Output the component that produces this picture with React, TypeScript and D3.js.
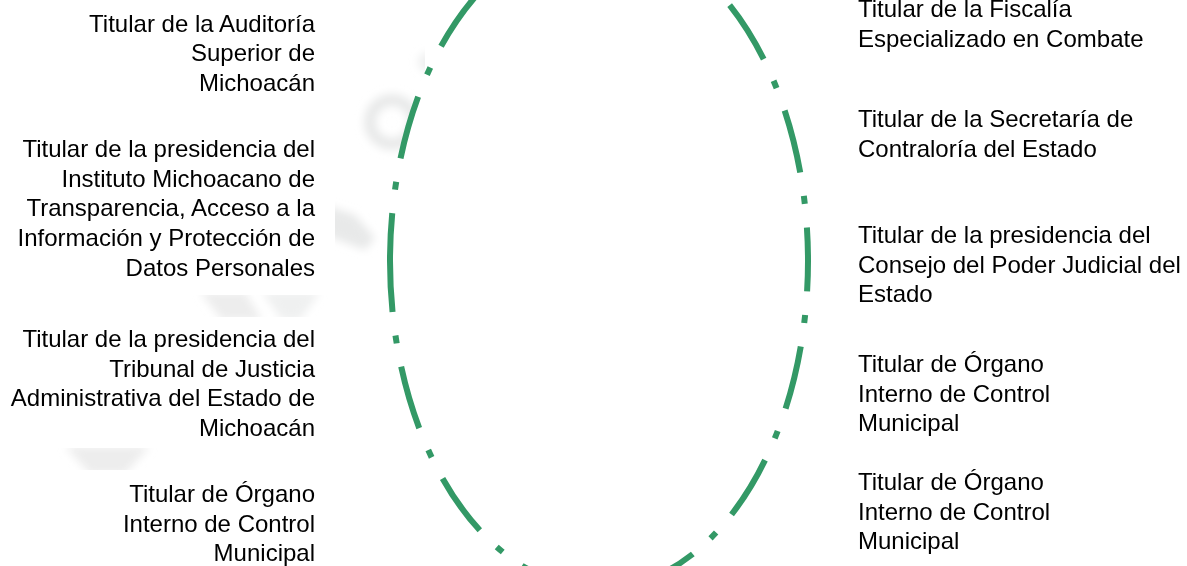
import * as d3 from 'd3';
import React, { useRef, useEffect } from 'react';

// label text, one array of lines per box
const leftLabels = [
  ['Titular de la Auditoría', 'Superior de', 'Michoacán'],
  ['Titular de la presidencia del', 'Instituto Michoacano de', 'Transparencia, Acceso a la', 'Información y Protección de', 'Datos Personales'],
  ['Titular de la presidencia del', 'Tribunal de Justicia', 'Administrativa del Estado de', 'Michoacán'],
  ['Titular de Órgano', 'Interno de Control', 'Municipal'],
];
const rightLabels = [
  ['Titular de la Fiscalía', 'Especializado en Combate'],
  ['Titular de la Secretaría de', 'Contraloría del Estado'],
  ['Titular de la presidencia del', 'Consejo del Poder Judicial del', 'Estado'],
  ['Titular de Órgano', 'Interno de Control', 'Municipal'],
  ['Titular de Órgano', 'Interno de Control', 'Municipal'],
];

// layout (first baseline of each box)
const leftTops = [31.5, 157, 347, 502];
const rightTops = [17, 127, 243, 372, 490];

const W = 1187;
const H = 566;
const green = '#339966';

const App = () => {
  const ref = useRef(null);

  useEffect(() => {
    document.body.style.margin = '0';
    const svg = d3.select(ref.current);
    svg.selectAll('*').remove();

    const lineH = 29.7;

    // faint watermark, only visible in the gaps between boxes
    const defs = svg.append('defs');
    defs.append('filter').attr('id', 'blur')
      .attr('x', '-20%').attr('y', '-20%').attr('width', '140%').attr('height', '140%')
      .append('feGaussianBlur').attr('stdDeviation', 4);
    const clip = defs.append('clipPath').attr('id', 'wm');
    [[335, 20, 90, 300], [145, 295, 190, 22], [35, 448, 130, 22]].forEach(([x, y, w, h]) =>
      clip.append('rect').attr('x', x).attr('y', y).attr('width', w).attr('height', h));

    const wm = svg.append('g').attr('clip-path', 'url(#wm)')
      .append('g').attr('filter', 'url(#blur)').attr('fill', '#e8e9e9').attr('stroke', '#e8e9e9');
    wm.append('circle').attr('cx', 392).attr('cy', 122).attr('r', 22)
      .attr('fill', 'none').attr('stroke-width', 12);
    wm.append('circle').attr('cx', 428).attr('cy', 62).attr('r', 10).attr('stroke', 'none').attr('opacity', 0.7);
    wm.append('path').attr('d', 'M325,205 L355,215 L375,238 L365,250 L325,235 Z').attr('stroke', 'none');
    wm.append('path').attr('d', 'M200,292 L245,292 L262,320 L222,320 Z').attr('stroke', 'none').attr('opacity', 0.8);
    wm.append('path').attr('d', 'M262,292 L320,292 L300,320 L282,320 Z').attr('stroke', 'none').attr('opacity', 0.7);
    wm.append('path').attr('d', 'M65,446 L150,446 L125,474 L90,474 Z').attr('stroke', 'none').attr('opacity', 0.8);

    // ellipse: path starts at the left and runs clockwise, like the source shape
    const cx = 599, cy = 261, rx = 209, ry = 328;
    const p = `M${cx - rx},${cy} A${rx},${ry} 0 0 1 ${cx + rx},${cy} A${rx},${ry} 0 0 1 ${cx - rx},${cy} Z`;
    svg.append('path')
      .attr('d', p)
      .attr('fill', '#ffffff')
      .attr('stroke', green).attr('stroke-width', 6)
      .attr('stroke-dasharray', '64 23.7 8 23.7')
      .attr('stroke-dashoffset', 16);

    const drawBoxes = (labels, tops, x, anchor) => {
      const g = svg.append('g')
        .attr('font-family', '"Liberation Sans", Arial, sans-serif')
        .attr('font-size', 24)
        .attr('fill', '#000000')
        .attr('text-anchor', anchor);
      labels.forEach((lines, i) => {
        const t = g.append('text');
        lines.forEach((ln, j) => {
          t.append('tspan').attr('x', x).attr('y', tops[i] + j * lineH).text(ln);
        });
      });
    };
    drawBoxes(leftLabels, leftTops, 315, 'end');
    drawBoxes(rightLabels, rightTops, 858, 'start');
  }, []);

  return <svg ref={ref} width={W} height={H} style={{ display: 'block' }} />;
};

export default App;
